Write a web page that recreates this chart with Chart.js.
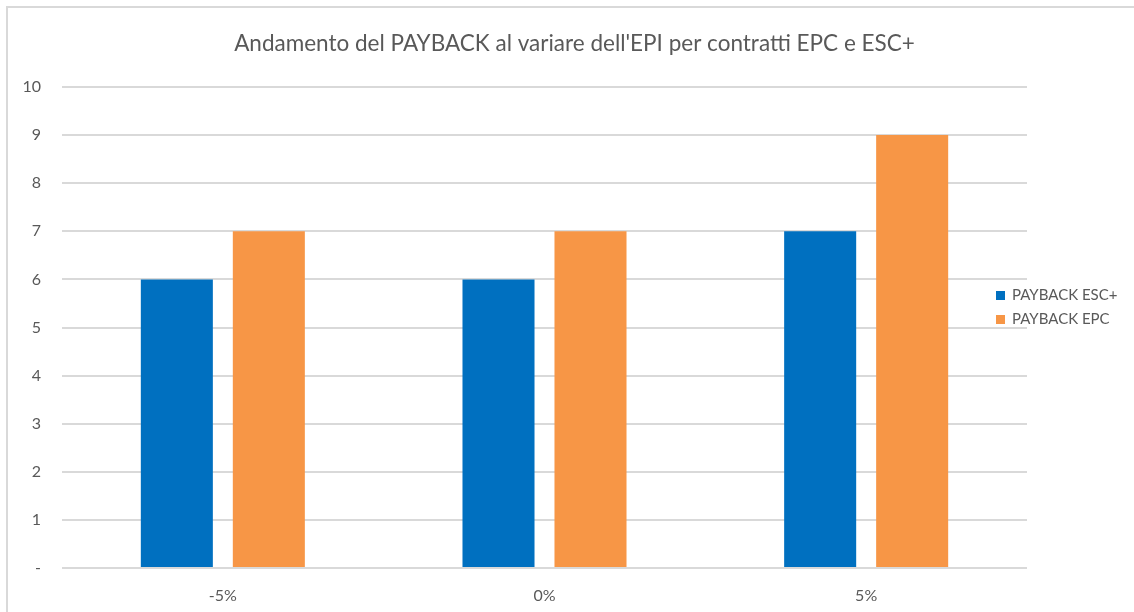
<!DOCTYPE html>
<html>
<head>
<meta charset="utf-8">
<script src="https://cdn.jsdelivr.net/npm/chart.js@4.4.1/dist/chart.umd.min.js"></script>
<style>
  html, body { margin: 0; padding: 0; background: #ffffff; }
  #wrap { position: relative; width: 1134px; height: 612px; overflow: hidden; }
  #frame { position: absolute; left: 6px; top: 6px; width: 1200px; height: 700px;
           border-left: 2px solid #d9d9d9; border-top: 2px solid #d9d9d9; box-sizing: border-box; }
  canvas { position: absolute; left: 0; top: 0; }
</style>
</head>
<body>
<div id="wrap">
  <div id="frame"></div>
  <canvas id="chart" width="1134" height="612"></canvas>
</div>
<script>
const categories = ['-5%', '0%', '5%'];
const paybackEsc = [6, 6, 7];
const paybackEpc = [7, 7, 9];
const yTicks = [0, 1, 2, 3, 4, 5, 6, 7, 8, 9, 10];
const chartTitle = "Andamento del PAYBACK al variare dell'EPI per contratti EPC e ESC+";

const FONT = 'Lato, "Open Sans", sans-serif';
const TEXT = '#595959';

// Legend laid over the right edge of the plot, like an office-style chart
const overlayLegend = {
  id: 'overlayLegend',
  afterDraw(chart) {
    const ctx = chart.ctx;
    const x = chart.chartArea.right - 31;
    const yMid = (chart.chartArea.top + chart.chartArea.bottom) / 2 - 20;
    const gap = 24;
    const items = chart.data.datasets;
    ctx.save();
    ctx.font = '15px ' + FONT;
    ctx.textBaseline = 'middle';
    ctx.textAlign = 'left';
    items.forEach((ds, i) => {
      const y = yMid + (i - (items.length - 1) / 2) * gap;
      ctx.fillStyle = ds.backgroundColor;
      ctx.fillRect(x, y - 4.5, 9, 9);
      ctx.fillStyle = TEXT;
      ctx.fillText(ds.label, x + 16, y);
    });
    ctx.restore();
  }
};

new Chart(document.getElementById('chart'), {
  type: 'bar',
  data: {
    labels: categories,
    datasets: [
      { label: 'PAYBACK ESC+', data: paybackEsc, backgroundColor: '#0070c0',
        barPercentage: 0.783, categoryPercentage: 0.572 },
      { label: 'PAYBACK EPC', data: paybackEpc, backgroundColor: '#f79646',
        barPercentage: 0.783, categoryPercentage: 0.572 }
    ]
  },
  options: {
    responsive: false,
    animation: false,
    layout: { padding: { left: 15, right: 0, top: 0, bottom: 7 } },
    plugins: {
      title: {
        display: true, text: chartTitle, color: TEXT,
        font: { family: FONT, size: 22.5, weight: 'normal' },
        padding: { top: 30, bottom: 30 }
      },
      legend: { display: false },
      tooltip: { enabled: false }
    },
    scales: {
      x: {
        afterFit: (axis) => { axis.height = 37; },
        grid: { display: false, drawTicks: false },
        border: { display: false },
        ticks: { color: TEXT, font: { family: FONT, size: 16 }, padding: 18 }
      },
      y: {
        min: 0, max: 10,
        afterBuildTicks: (axis) => { axis.ticks = yTicks.map(v => ({ value: v })); },
        afterFit: (axis) => { axis.width = 47; },
        grid: { color: '#d9d9d9', lineWidth: 2, drawTicks: false },
        border: { display: false },
        ticks: {
          color: TEXT, font: { family: FONT, size: 16 }, padding: 21,
          callback: (v) => (v === 0 ? '-' : String(v))
        }
      },
      legendSpace: {
        type: 'linear', position: 'right', display: true,
        afterFit: (axis) => { axis.width = 107; },
        grid: { display: false, drawTicks: false },
        border: { display: false },
        ticks: { display: false }
      }
    }
  },
  plugins: [overlayLegend]
});
</script>
</body>
</html>
